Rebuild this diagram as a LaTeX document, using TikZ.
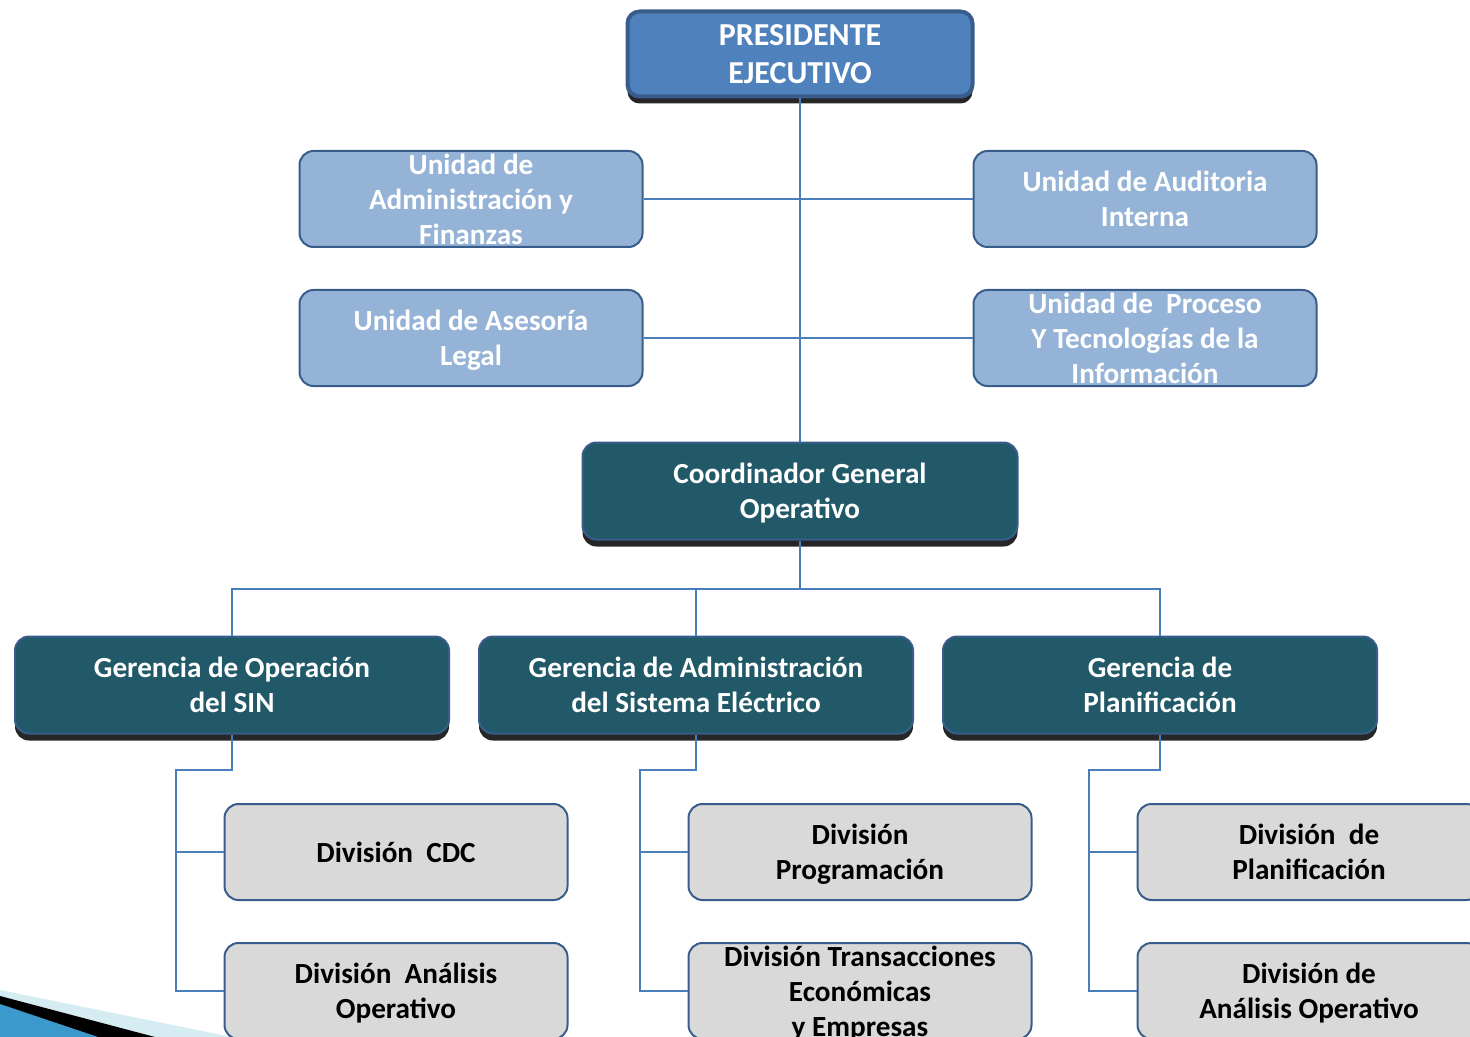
\documentclass[tikz,border=0pt]{standalone}
\usepackage{fontspec}
\setmainfont{Carlito}
\usetikzlibrary{shadows}
\definecolor{headblue}{HTML}{4F81BD}
\definecolor{unitblue}{HTML}{95B3D7}
\definecolor{darkteal}{HTML}{215968}
\definecolor{divgray}{HTML}{D9D9D9}
\definecolor{boxborder}{HTML}{385D8A}
\definecolor{linkblue}{HTML}{4A7EBB}
\definecolor{swooshlight}{HTML}{D6ECF3}
\definecolor{swooshblue}{HTML}{3B9ACB}
\begin{document}
\begin{tikzpicture}[x=0.5pt, y=-0.5pt,
	main/.style={
	rectangle, rounded corners=7pt, align=center, inner sep=0pt, text depth=0pt,
	draw=boxborder, line width=1pt,
	minimum width=171.5pt, minimum height=48pt,
	font=\fontsize{14.6}{17.6}\selectfont\bfseries, text=white},
	unit/.style={main, fill=unitblue},
	head/.style={main, fill=headblue, line width=2pt, rounded corners=6pt,
	minimum width=172.5pt, minimum height=42.5pt,
	font=\fontsize{16}{19}\selectfont\bfseries,
	drop shadow={shadow xshift=0pt, shadow yshift=-3.5pt, fill=black, opacity=0.85}},
	ger/.style={main, fill=darkteal, minimum width=217pt, minimum height=48.5pt,
	drop shadow={shadow xshift=0pt, shadow yshift=-3.5pt, fill=black, opacity=0.85}},
	div/.style={main, fill=divgray, text=black},
	link/.style={draw=linkblue, line width=1pt}]
	\useasboundingbox (0,0) rectangle (1470,1037);
	% swoosh in the lower left corner
	\fill[swooshlight] (0,990) -- (232,1037) -- (0,1037) -- cycle;
	\fill[black] (0,996) -- (155,1037) -- (0,1037) -- cycle;
	\fill[swooshblue] (0,1004) -- (98,1037) -- (0,1037) -- cycle;
	\node[head] (0) at (800,54) {PRESIDENTE\\EJECUTIVO};
	\node[unit, inner ysep=-4pt] (1) at (471,199) {Unidad de\\Administración y\\Finanzas};
	\node[unit] (2) at (1145,199) {Unidad de Auditoria\\Interna};
	\node[unit] (3) at (471,338) {Unidad de Asesoría\\Legal};
	\node[unit, inner ysep=-4pt] (4) at (1145,338) {Unidad de\ \ Proceso\\Y Tecnologías de la\\Información};
	\node[ger, minimum width=217.5pt] (5) at (800,491) {Coordinador General\\Operativo};
	\node[ger] (6) at (232,685) {Gerencia de Operación\\del SIN};
	\node[ger] (7) at (696,685) {Gerencia de Administración\\del Sistema Eléctrico};
	\node[ger] (8) at (1160,685) {Gerencia de\\Planificación};
	\node[div] (9) at (396,852) {División\ \ CDC};
	\node[div] (10) at (396,991) {División\ \ Análisis\\Operativo};
	\node[div] (11) at (860,852) {División\\Programación};
	\node[div, inner ysep=-4pt] (12) at (860,991) {División Transacciones\\Económicas\\y Empresas};
	\node[div] (13) at (1309,852) {División\ \ de\\Planificación};
	\node[div] (14) at (1309,991) {División de\\Análisis Operativo};
	\draw[link] (0) -- (5);
	\draw[link] (1) -- (2);
	\draw[link] (3) -- (4);
	\draw[link] (5.south) -- ++(0,48) -| (6.north);
	\draw[link] (5.south) -- ++(0,48) -| (7.north);
	\draw[link] (5.south) -- ++(0,48) -| (8.north);
	\draw[link] (6.south) -- ++(0,35) -| ([xshift=-24pt]10.west) -- (10.west);
	\draw[link] ([xshift=-24pt]9.west) -- (9.west);
	\draw[link] (7.south) -- ++(0,35) -| ([xshift=-24pt]12.west) -- (12.west);
	\draw[link] ([xshift=-24pt]11.west) -- (11.west);
	\draw[link] (8.south) -- ++(0,35) -| ([xshift=-24pt]14.west) -- (14.west);
	\draw[link] ([xshift=-24pt]13.west) -- (13.west);
\end{tikzpicture}
\end{document}
